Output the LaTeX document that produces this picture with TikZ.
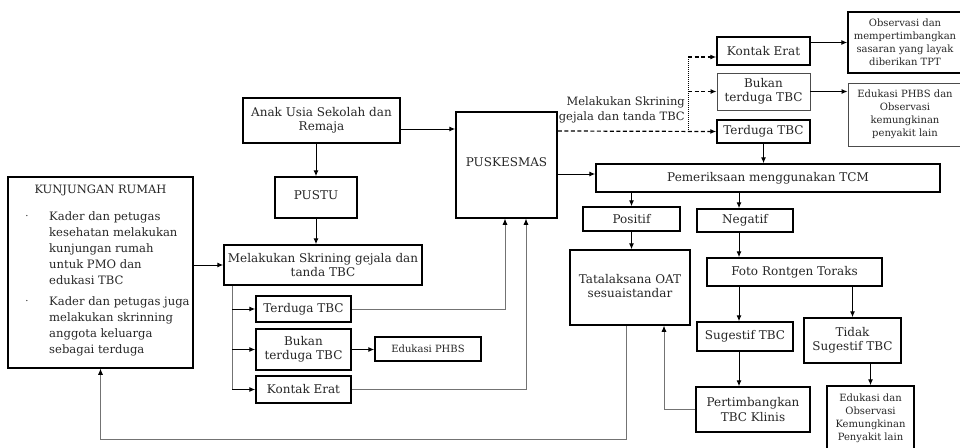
\documentclass[tikz,border=0pt]{standalone}
\usepackage{fontspec}
\setmainfont{DejaVu Serif}
\usetikzlibrary{arrows.meta}

\begin{document}
\begin{tikzpicture}[x=1pt,y=-1pt,
  kotak/.style={draw,line width=1.5pt,inner sep=0pt,align=center,text=black!85,font=\fontsize{12}{14.5}\selectfont},
  kotaktipis/.style={kotak,line width=0.9pt,draw=black!70},
  kecil/.style={font=\fontsize{10}{13}\selectfont},
  panah/.style={line width=1pt,-{Latex[length=6pt,width=5pt]}},
  garis/.style={line width=0.7pt,draw=black!55,-{Latex[length=6pt,width=5pt,color=black]}},
  putus/.style={line width=1.2pt,dash pattern=on 4pt off 2.5pt,-{Latex[length=6pt,width=5pt]}}]
\useasboundingbox (0,0) rectangle (960,447);
       \node [kotak,minimum width=185,minimum height=191] (rumah) at (100.5,272.5) {};
       \node [text=black!85,font=\fontsize{11.5}{14}\selectfont] (rumahjudul) at (100.5,190) {KUNJUNGAN RUMAH};
       \node [text=black!85] (titik1) at (27,217) {·};
       \node [text=black!85,anchor=north west,align=left,inner sep=0pt,font=\fontsize{11.6}{16}\selectfont] (isi1) at (49,211.5) {Kader dan petugas\\kesehatan melakukan\\kunjungan rumah\\untuk PMO dan\\edukasi TBC};
       \node [text=black!85] (titik2) at (27,302) {·};
       \node [text=black!85,anchor=north west,align=left,inner sep=0pt,font=\fontsize{11.6}{16}\selectfont] (isi2) at (49,296.5) {Kader dan petugas juga\\melakukan skrinning\\anggota keluarga\\sebagai terduga};
       \node [kotak,minimum width=157,minimum height=45] (anak) at (321.5,120.5) {Anak Usia Sekolah dan\\Remaja};
       \node [kotak,minimum width=82,minimum height=41] (pustu) at (316,197.5) {\raisebox{5pt}{PUSTU}};
       \node [kotak,minimum width=198,minimum height=40] (skrining) at (323,265) {Melakukan Skrining gejala dan\\tanda TBC};
       \node [kotak,minimum width=95,minimum height=26] (terduga2) at (303.5,309) {Terduga TBC};
       \node [kotak,minimum width=95,minimum height=41] (bukan2) at (303.5,349.5) {Bukan\\terduga TBC};
       \node [kotak,minimum width=95,minimum height=27] (kontak2) at (303.5,389.5) {Kontak Erat};
       \node [kotak,minimum width=106,minimum height=24,font=\fontsize{10}{12}\selectfont] (phbs) at (428,349) {Edukasi PHBS};
       \node [kotak,minimum width=101,minimum height=106] (puskesmas) at (506.5,165) {\raisebox{5pt}{PUSKESMAS}};
       \node [kotak,minimum width=93,minimum height=28] (kontak1) at (763.5,51) {Kontak Erat};
       \node [kotaktipis,minimum width=93,minimum height=37] (bukan1) at (763.5,91.5) {Bukan\\terduga TBC};
       \node [kotak,minimum width=93,minimum height=23] (terduga1) at (763.5,131.5) {Terduga TBC};
       \node [kotak,kecil,minimum width=114,minimum height=61] (observasi) at (905,42.5) {Observasi dan\\mempertimbangkan\\sasaran yang layak\\diberikan TPT};
       \node [kotaktipis,kecil,minimum width=114,minimum height=63] (edukasi1) at (905,114.5) {Edukasi PHBS dan\\Observasi\\kemungkinan\\penyakit lain};
       \node [kotak,minimum width=344,minimum height=28] (tcm) at (768,178) {Pemeriksaan menggunakan TCM};
       \node [kotak,minimum width=97,minimum height=24] (positif) at (631.5,219) {Positif};
       \node [kotak,minimum width=96,minimum height=23] (negatif) at (745,220.5) {Negatif};
       \node [kotak,minimum width=120,minimum height=75] (oat) at (630,287.5) {\raisebox{4pt}{\begin{tabular}{@{}c@{}}Tatalaksana OAT\\sesuaistandar\end{tabular}}};
       \node [kotak,minimum width=175,minimum height=28] (foto) at (794.5,272) {Foto Rontgen Toraks};
       \node [kotak,minimum width=96,minimum height=29] (sugestif) at (745,336.5) {Sugestif TBC};
       \node [kotak,minimum width=97,minimum height=45] (tidak) at (852.5,340.5) {Tidak\\Sugestif TBC};
       \node [kotak,minimum width=114,minimum height=45] (klinis) at (753,409.5) {Pertimbangkan\\TBC Klinis};
       \node [kotak,kecil,minimum width=87,minimum height=64] (edukasi2) at (870.5,418) {Edukasi dan\\Observasi\\Kemungkinan\\Penyakit lain};
       \node [text=black!85,align=right,anchor=south east,inner sep=1pt,font=\fontsize{11.5}{15}\selectfont] (labelskr) at (686,124.5) {Melakukan Skrining\\gejala dan tanda TBC};

\coordinate (cabangatas) at (688,131.5);
\coordinate (cabangkontak) at (688,57);
\coordinate (cabang) at ([xshift=9pt]skrining.south west);
\coordinate (negatas) at ([xshift=-6pt]negatif.north);

\draw [panah] ([yshift=-8.5pt]anak.east) -- ([yshift=36pt]puskesmas.west);
\draw [panah] (anak.south -| pustu.north) -- (pustu.north);
\draw [panah] (pustu.south) -- (pustu.south |- skrining.north);
\draw [panah] (rumah.east |- skrining.west) -- (skrining.west);
\draw [line width=0.7pt,black!55] (cabang) -- (cabang |- kontak2.west);
\draw [panah] (cabang |- terduga2.west) -- (terduga2.west);
\draw [panah] (cabang |- bukan2.west) -- (bukan2.west);
\draw [panah] (cabang |- kontak2.west) -- (kontak2.west);
\draw [panah] (bukan2.east) -- (bukan2.east -| phbs.west);
\draw [garis] (terduga2.east) -| ([xshift=-1.5pt]puskesmas.south);
\draw [garis] (kontak2.east) -| ([xshift=19.5pt]puskesmas.south);
\draw [putus] ([yshift=34pt]puskesmas.east) -- (terduga1.west);
\draw [line width=1pt,densely dotted] (cabangatas) -- (cabangkontak);
\draw [putus] (cabangkontak) -- (cabangkontak -| kontak1.west);
\draw [putus] (cabangatas |- bukan1.west) -- (bukan1.west);
\draw [panah] ([yshift=8.5pt]kontak1.east) -- (observasi.west);
\draw [panah] (bukan1.east) -- (bukan1.east -| edukasi1.west);
\draw [panah] (terduga1.south) -- (terduga1.south |- tcm.north);
\draw [panah] ([yshift=-9pt]puskesmas.east) -- ([yshift=4pt]tcm.west);
\draw [panah] (tcm.south -| positif.north) -- (positif.north);
\draw [panah] (tcm.south -| negatas) -- (negatas);
\draw [panah] (positif.south) -- (positif.south |- oat.north);
\draw [panah] (negatif.south -| negatas) -- (foto.north -| negatas);
\draw [panah] (foto.south -| negatas) -- (sugestif.north -| negatas);
\draw [panah] (foto.south -| tidak.north) -- (tidak.north);
\draw [panah] (sugestif.south -| negatas) -- (klinis.north -| negatas);
\draw [panah] (tidak.south -| edukasi2.north) -- (edukasi2.north);
\draw [garis] (klinis.west) -| ([xshift=34pt]oat.south);
\draw [garis] ([xshift=-4pt]oat.south) |- ([yshift=-71pt]rumah.south) -- (rumah.south);
\end{tikzpicture}
\end{document}
